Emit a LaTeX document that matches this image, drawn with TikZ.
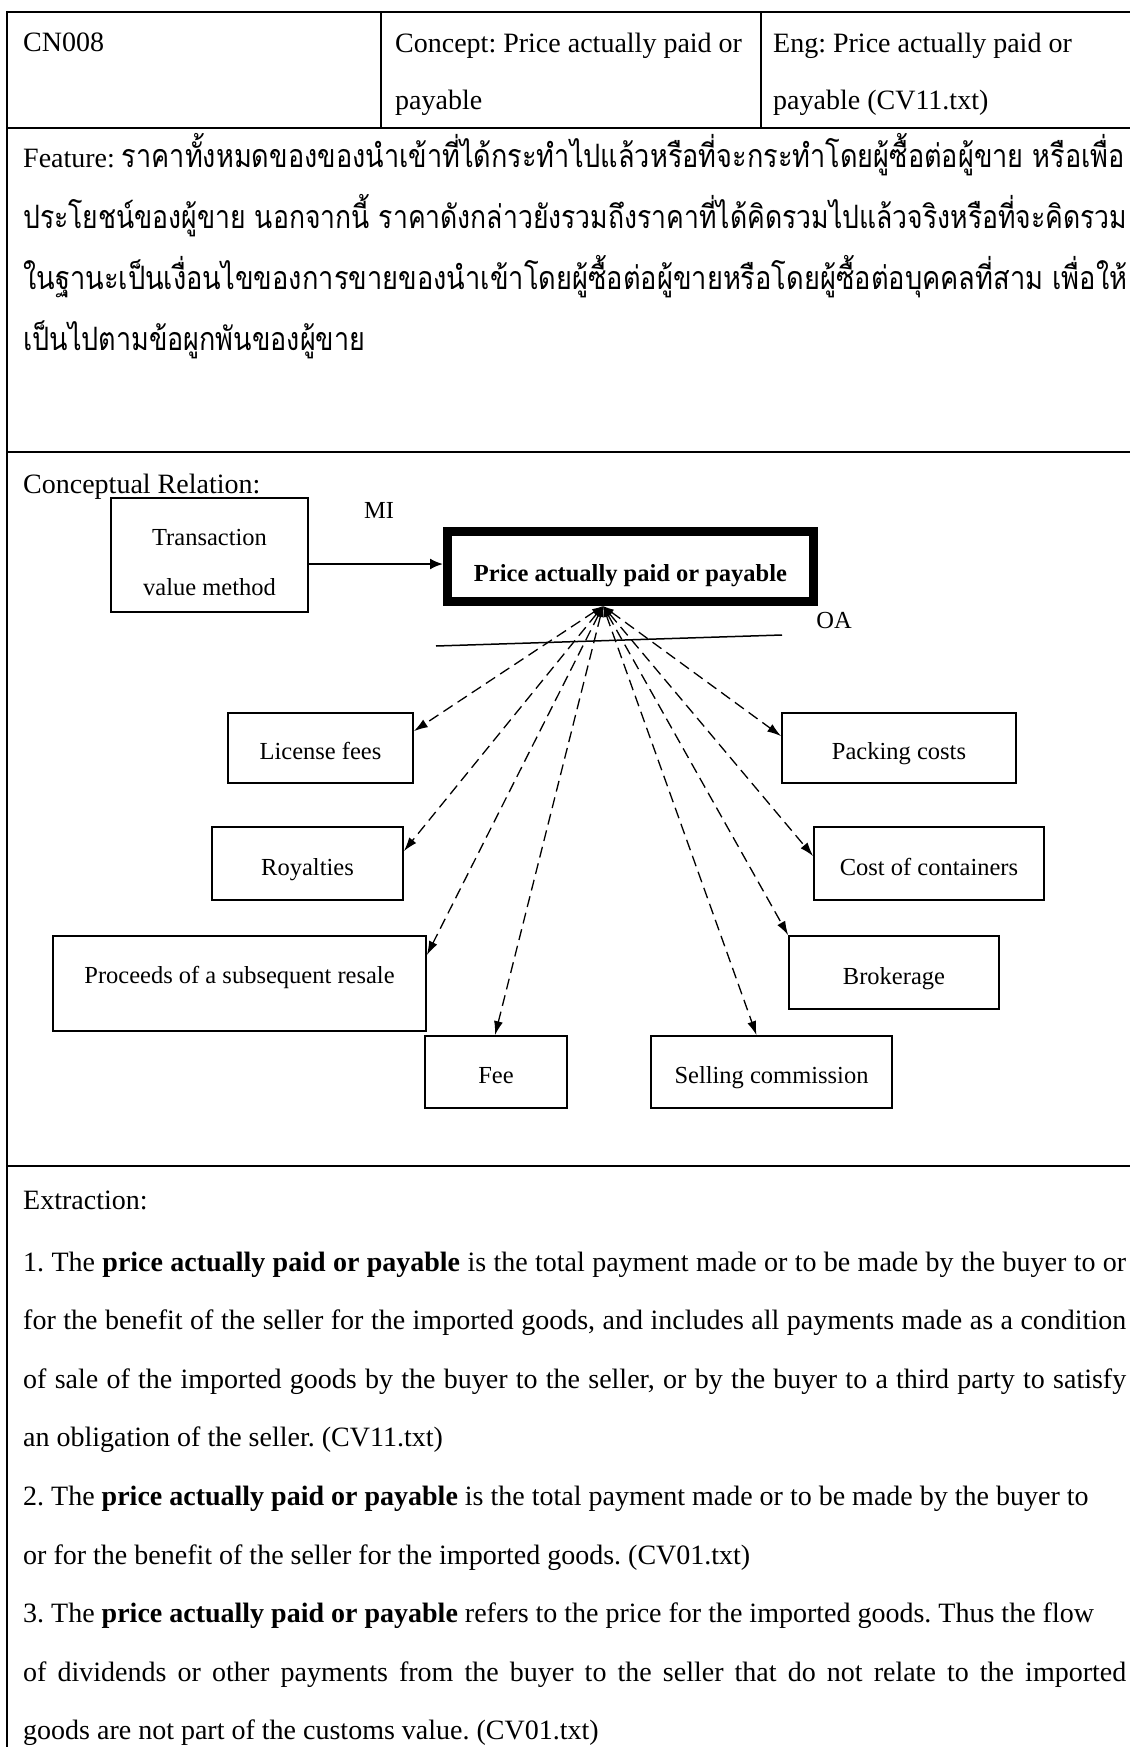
\documentclass[tikz,border=0pt]{standalone}
\usepackage{fontspec}
\usepackage{graphicx}
\usetikzlibrary{arrows.meta}
\setmainfont{Liberation Serif}
\newfontfamily\thaifont[Script=Thai,Scale=1.15]{Loma}
\newcommand{\bodysize}{\fontsize{28}{34}\selectfont}
\newcommand{\boxsize}{\fontsize{24.5}{30}\selectfont}
\newcommand{\jline}[1]{\makebox[1103pt][s]{#1}}
\newcommand{\thline}[2]{\resizebox{#1}{\height}{#2}}
\frenchspacing
\begin{document}
\begin{tikzpicture}[x=1pt,y=-1pt,
  txt/.style={anchor=base west, inner sep=0pt, font=\bodysize},
  tablerule/.style={line width=2pt},
  colrule/.style={line width=1.3pt},
  cbox/.style={draw, line width=1.7pt, inner sep=0pt, font=\boxsize, align=center},
  sbox/.style={cbox, text height=24pt, text depth=1pt},
  mainbox/.style={draw, line width=9pt, inner sep=0pt, font=\boxsize\bfseries},
  relarrow/.style={line width=1.3pt, dash pattern=on 11pt off 6pt,
    {Latex[length=11pt,width=7pt]}-{Latex[length=14pt,width=9pt]}},
  inarrow/.style={line width=2pt, -{Latex[length=13pt,width=11pt]}},
  lbl/.style={inner sep=0pt, font=\boxsize}
]
\useasboundingbox (0,0) rectangle (1129,1747);
\fill[white] (0,0) rectangle (1129,1747);

% table frame
\draw[tablerule] (7,12) -- (1135,12);
\draw[tablerule] (7,11) -- (7,1755);
\draw[tablerule] (6,128) -- (1135,128);
\draw[tablerule] (6,452) -- (1135,452);
\draw[tablerule] (6,1166) -- (1135,1166);
\draw[colrule] (381,12) -- (381,128);
\draw[colrule] (761,12) -- (761,128);

% header row
\node[txt] (cid) at (23,52) {CN008};
\node[txt] (concepta) at (395,53) {Concept: Price actually paid or};
\node[txt] (conceptb) at (395,110) {payable};
\node[txt] (enga) at (773,53) {Eng: Price actually paid or};
\node[txt] (engb) at (773,110) {payable (CV11.txt)};

% feature row
\node[txt] (feata) at (23,168) {Feature: \thline{1003pt}{\thaifont ราคาทั้งหมดของของนำเข้าที่ได้กระทำไปแล้วหรือที่จะกระทำโดยผู้ซื้อต่อผู้ขาย หรือเพื่อ}};
\node[txt] (featb) at (23,229) {\thline{1104pt}{\thaifont ประโยชน์ของผู้ขาย นอกจากนี้ ราคาดังกล่าวยังรวมถึงราคาที่ได้คิดรวมไปแล้วจริงหรือที่จะคิดรวม}};
\node[txt] (featc) at (23,289) {\thline{1104pt}{\thaifont ในฐานะเป็นเงื่อนไขของการขายของนำเข้าโดยผู้ซื้อต่อผู้ขายหรือโดยผู้ซื้อต่อบุคคลที่สาม เพื่อให้}};
\node[txt] (featd) at (23,350) {\thline{342pt}{\thaifont เป็นไปตามข้อผูกพันของผู้ขาย}};

% conceptual relation row
\node[txt] (crel) at (23,493) {Conceptual Relation:};

\node[cbox, minimum width=197, minimum height=114, font=\fontsize{24.5}{50}\selectfont] (tvm) at (209.5,555) {\rule{0pt}{32pt}Transaction\\value method};
\node[mainbox, minimum width=366, minimum height=70, text height=34pt, text depth=5pt] (main) at (630.5,566.5) {Price actually paid or payable};
\node[lbl] (mi) at (379,510) {MI};
\node[lbl] (oa) at (834,621) {OA};

\node[sbox, minimum width=185, minimum height=70] (lic) at (320.5,748) {License fees};
\node[sbox, minimum width=234, minimum height=70] (pack) at (899,748) {Packing costs};
\node[sbox, minimum width=191, minimum height=73] (roy) at (307.5,863.5) {Royalties};
\node[sbox, minimum width=230, minimum height=73] (cost) at (929,863.5) {Cost of containers};
\node[cbox, minimum width=373, minimum height=95] (pro) at (239.5,983.5) {\rule[-18pt]{0pt}{0pt}Proceeds of a subsequent resale};
\node[sbox, minimum width=210, minimum height=73] (bro) at (894,972.5) {Brokerage};
\node[sbox, minimum width=142, minimum height=72] (fee) at (496,1072) {Fee};
\node[sbox, minimum width=241, minimum height=72] (sel) at (771.5,1072) {Selling commission};

\draw[inarrow] (tvm.east |- 0,564) -- (main.west |- 0,564);

\coordinate (hub) at ([xshift=-27.5pt]main.south);
\coordinate (oal) at (436,646);
\coordinate (oar) at (782,635);
\draw[line width=1.5pt] (oal) -- (oar);

\draw[relarrow] (hub) -- ([yshift=-19pt]lic.north east);
\draw[relarrow] (hub) -- ([yshift=-25pt]roy.north east);
\draw[relarrow] (hub) -- ([yshift=-20pt]pro.north east);
\draw[relarrow] (hub) -- ([xshift=-1pt]fee.north);
\draw[relarrow] (hub) -- ([xshift=-15pt]sel.north);
\draw[relarrow] (hub) -- (bro.north west);
\draw[relarrow] (hub) -- ([yshift=-30pt]cost.north west);
\draw[relarrow] (hub) -- ([yshift=-24pt]pack.north west);

% extraction row
\node[txt] (extr) at (23,1209) {Extraction:};
\node[txt] (exa) at (23,1271) {\jline{1. The \textbf{price actually paid or payable} is the total payment made or to be made by the buyer to or}};
\node[txt] (exb) at (23,1329.6) {\jline{for the benefit of the seller for the imported goods, and includes all payments made as a condition}};
\node[txt] (exc) at (23,1388.2) {\jline{of sale of the imported goods by the buyer to the seller, or by the buyer to a third party to satisfy}};
\node[txt] (exd) at (23,1446.8) {an obligation of the seller. (CV11.txt)};
\node[txt] (exe) at (23,1505.4) {2. The \textbf{price actually paid or payable} is the total payment made or to be made by the buyer to};
\node[txt] (exf) at (23,1564) {or for the benefit of the seller for the imported goods. (CV01.txt)};
\node[txt] (exg) at (23,1622.6) {3. The \textbf{price actually paid or payable} refers to the price for the imported goods. Thus the flow};
\node[txt] (exh) at (23,1681.2) {\jline{of dividends or other payments from the buyer to the seller that do not relate to the imported}};
\node[txt] (exi) at (23,1739.8) {goods are not part of the customs value. (CV01.txt)};
\end{tikzpicture}
\end{document}
